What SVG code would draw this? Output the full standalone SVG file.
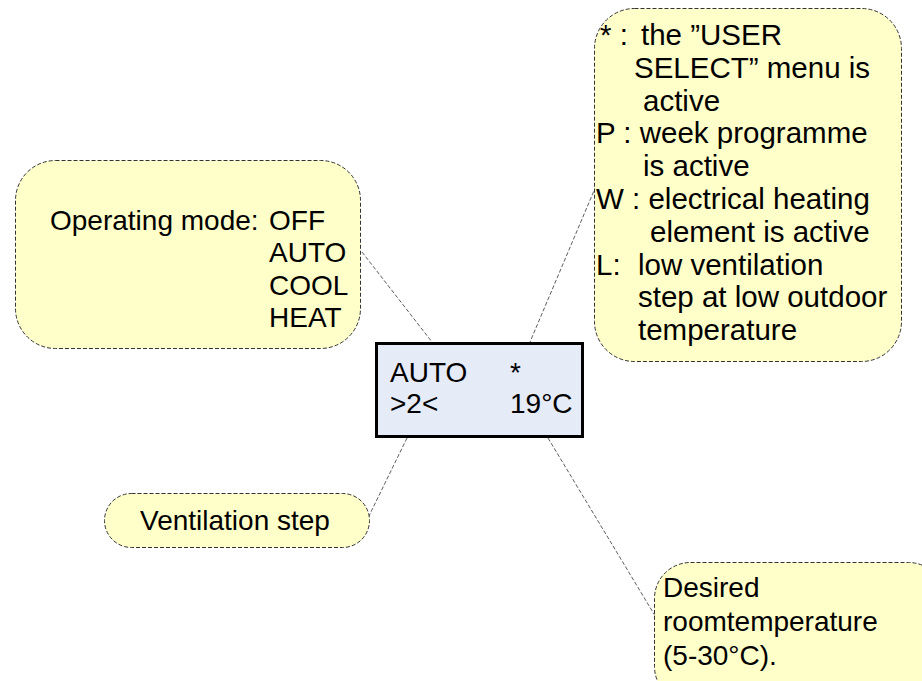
<svg xmlns="http://www.w3.org/2000/svg" width="922" height="681" viewBox="0 0 922 681">
<style>
  .callout { fill: #ffffc9; stroke: #333333; stroke-width: 1; stroke-dasharray: 4 2; }
  .lcd { fill: #e5ebf7; stroke: #000000; stroke-width: 3; }
  .conn { fill: none; stroke: #333333; stroke-width: 0.8; stroke-dasharray: 4 2; }
  text { font-family: "Liberation Sans", Arial, sans-serif; font-size: 28px; fill: #000000; }
  .big { font-size: 29.5px; }
</style>
<rect width="922" height="681" fill="#ffffff"/>
<g id="connectors">
  <line class="conn" x1="362" y1="252" x2="432" y2="342"/>
  <line class="conn" x1="596" y1="186" x2="530" y2="342"/>
  <line class="conn" x1="407" y1="438" x2="368" y2="518"/>
  <line class="conn" x1="548" y1="438" x2="660" y2="624"/>
</g>
<g id="operating-mode">
  <rect class="callout" x="15.5" y="160.5" width="345" height="188" rx="40" ry="40"/>
  <text x="50" y="230">Operating mode:</text>
  <text x="269" y="230">OFF</text>
  <text x="269" y="262">AUTO</text>
  <text x="269" y="295">COOL</text>
  <text x="269" y="327">HEAT</text>
</g>
<g id="status-flags">
  <rect class="callout" x="594.5" y="8.5" width="307" height="353" rx="40" ry="40"/>
  <text class="big" x="600" y="45">* :</text><text class="big" x="641" y="45">the ”USER</text>
  <text class="big" x="634" y="78">SELECT” menu is</text>
  <text class="big" x="643" y="111">active</text>
  <text class="big" x="596" y="143">P : week programme</text>
  <text class="big" x="643" y="176">is active</text>
  <text class="big" x="596" y="209">W : electrical heating</text>
  <text class="big" x="650" y="242">element is active</text>
  <text class="big" x="596" y="275">L:</text><text class="big" x="638" y="275">low ventilation</text>
  <text class="big" x="638" y="307">step at low outdoor</text>
  <text class="big" x="638" y="340">temperature</text>
</g>
<g id="display">
  <rect class="lcd" x="376.5" y="343.5" width="206" height="93"/>
  <text x="390" y="382">AUTO</text>
  <text x="510" y="382">*</text>
  <text x="390" y="413">&gt;2&lt;</text>
  <text x="510" y="413">19°C</text>
</g>
<g id="ventilation-step">
  <rect class="callout" x="104.5" y="493.5" width="265" height="54" rx="27" ry="27"/>
  <text x="140" y="530">Ventilation step</text>
</g>
<g id="desired-temperature">
  <rect class="callout" x="654.5" y="562.5" width="290" height="140" rx="36" ry="36"/>
  <text x="663" y="597">Desired</text>
  <text x="663" y="631">roomtemperature</text>
  <text x="663" y="665">(5-30°C).</text>
</g>
</svg>
